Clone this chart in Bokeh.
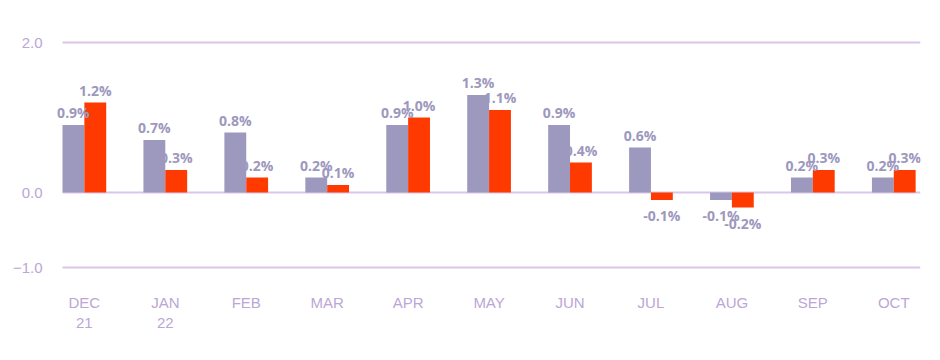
from bokeh.plotting import figure
from bokeh.models import ColumnDataSource, FixedTicker
from bokeh.embed import file_html
from bokeh.resources import INLINE
from bokeh.core.properties import value

months = ["DEC\n21", "JAN\n22", "FEB", "MAR", "APR", "MAY", "JUN", "JUL", "AUG", "SEP", "OCT"]
series_a = [0.9, 0.7, 0.8, 0.2, 0.9, 1.3, 0.9, 0.6, -0.1, 0.2, 0.2]
series_b = [1.2, 0.3, 0.2, 0.1, 1.0, 1.1, 0.4, -0.1, -0.2, 0.3, 0.3]
y_ticks = [-1.0, 0.0, 2.0]
y_tick_labels = ["\u22121.0", "0.0", "2.0"]

GRAY = "#9d98bd"
RED = "#ff3a00"
LABEL = "#9d98bd"
AXIS_TXT = "#bba6d6"
GRID = "#d9c6ea"

W = 0.27
idx = list(range(len(months)))
PX = 858 / 10.6  # pixels per category unit
grid_x0 = idx[0] - 0.27
grid_x1 = idx[-1] + 0.33
x_start = grid_x0 - 12 / PX

p = figure(frame_width=870, frame_height=254, output_backend="svg", toolbar_location=None,
           x_range=(x_start, grid_x1), y_range=(-1.2, 2.187),
           min_border_left=50, min_border_right=4, min_border_top=28, min_border_bottom=10)
p.outline_line_color = None
p.background_fill_color = "white"
p.border_fill_color = "white"

p.xgrid.visible = False
p.ygrid.visible = False
p.segment(x0=[grid_x0] * len(y_ticks), x1=[grid_x1] * len(y_ticks), y0=y_ticks, y1=y_ticks,
          line_color=GRID, line_width=2)

p.yaxis.ticker = FixedTicker(ticks=y_ticks)
p.yaxis.major_label_overrides = {t: l for t, l in zip(y_ticks, y_tick_labels)}
p.yaxis.axis_line_color = None
p.yaxis.major_tick_line_color = None
p.yaxis.minor_tick_line_color = None
p.yaxis.major_label_text_color = AXIS_TXT
p.yaxis.major_label_text_font = "Liberation Sans"
p.yaxis.major_label_text_font_size = "15px"
p.yaxis.major_label_standoff = 2

p.xaxis.ticker = FixedTicker(ticks=idx)
p.xaxis.major_label_overrides = {i: m for i, m in zip(idx, months)}
p.xaxis.axis_line_color = None
p.xaxis.major_tick_line_color = None
p.xaxis.minor_tick_line_color = None
p.xaxis.major_label_text_color = AXIS_TXT
p.xaxis.major_label_text_font = "Liberation Sans"
p.xaxis.major_label_text_font_size = "15px"
p.xaxis.major_label_standoff = 5

xa = [i - W / 2 for i in idx]
xb = [i + W / 2 for i in idx]

src = ColumnDataSource(dict(xa=xa, xb=xb, a=series_a, b=series_b))

p.vbar(x="xa", top="a", bottom=0, width=W, source=src, fill_color=GRAY, line_color=None)
p.vbar(x="xb", top="b", bottom=0, width=W, source=src, fill_color=RED, line_color=None)

for xs, vals in ((xa, series_a), (xb, series_b)):
    pos = [i for i, v in enumerate(vals) if v >= 0]
    neg = [i for i, v in enumerate(vals) if v < 0]
    lab = [f"{v:.1f}%" for v in vals]
    if pos:
        p.text(x=[xs[i] for i in pos], y=[vals[i] for i in pos], text=[lab[i] for i in pos],
               text_align="center", text_baseline="bottom", y_offset=-3,
               text_font=value("Open Sans"), text_font_style="bold",
               text_font_size="14px", text_color=LABEL)
    if neg:
        p.text(x=[xs[i] for i in neg], y=[vals[i] for i in neg], text=[lab[i] for i in neg],
               text_align="center", text_baseline="top", y_offset=6,
               text_font=value("Open Sans"), text_font_style="bold",
               text_font_size="14px", text_color=LABEL)

open("out.html", "w").write(file_html(p, INLINE))
